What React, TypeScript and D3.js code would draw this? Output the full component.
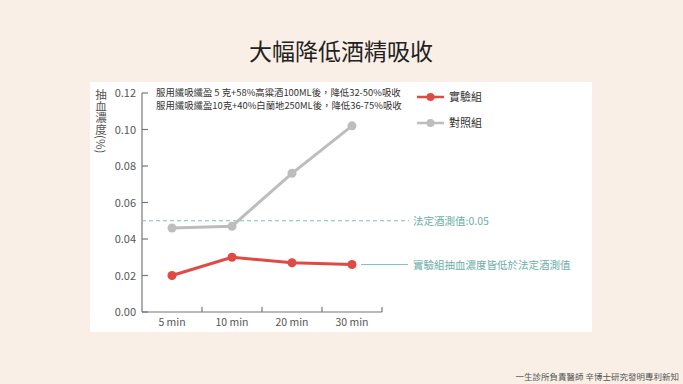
import React from "react";
import * as d3 from "d3";

const categories = ["5 min", "10 min", "20 min", "30 min"];
const experimentValues = [0.02, 0.03, 0.027, 0.026];
const controlValues = [0.046, 0.047, 0.076, 0.102];
const yTicks = [0, 0.02, 0.04, 0.06, 0.08, 0.1, 0.12];
const legalLimit = 0.05;
const seriesNames = ["實驗組", "對照組"];
const yLabel = "抽血濃度(%)";
const notes = [
  "服用纖吸纖盈 5 克+58%高粱酒100ML後，降低32-50%吸收",
  "服用纖吸纖盈10克+40%白蘭地250ML後，降低36-75%吸收",
];

export default function App() {
  const W = 683, H = 384;
  const x = d3.scaleBand<string>().domain(categories).range([142, 382]);
  const y = d3.scaleLinear().domain([0, 0.12]).range([312, 93]);
  const cx = (c: string) => (x(c) as number) + x.bandwidth() / 2;
  const line = d3
    .line<number>()
    .x((_, i) => cx(categories[i]))
    .y((d) => y(d));
  const red = "#e04a45";
  const gray = "#bdbdbd";
  const teal = "#7fbfb8";
  const axisColor = "#777";
  const font = "'Noto Sans CJK TC', 'Noto Sans', sans-serif";
  const lastX = cx(categories[3]);
  const lastY = y(experimentValues[3]);
  return (
    <svg
      width={W}
      height={H}
      style={{ position: "absolute", left: 0, top: 0 }}
      fontFamily={font}
    >
      <rect x={0} y={0} width={W} height={H} fill="#f9efe6" />
      <rect x={90} y={82} width={502} height={250} fill="#ffffff" />
      <text x={341} y={60} textAnchor="middle" fontSize={23} fill="#222">
        大幅降低酒精吸收
      </text>
      {/* y axis */}
      <line x1={142} x2={142} y1={y(0.12)} y2={y(0)} stroke={axisColor} strokeWidth={1.2} />
      {yTicks.map((t) => (
        <g key={t}>
          <line x1={142} x2={148} y1={y(t)} y2={y(t)} stroke={axisColor} strokeWidth={1.2} />
          <text x={136} y={y(t) + 4} textAnchor="end" fontSize={11} fill="#555">
            {t.toFixed(2)}
          </text>
        </g>
      ))}
      {/* x axis */}
      <line x1={142} x2={382} y1={y(0)} y2={y(0)} stroke={axisColor} strokeWidth={1.2} />
      {categories.map((c) => (
        <g key={c}>
          <line
            x1={(x(c) as number) + x.bandwidth()}
            x2={(x(c) as number) + x.bandwidth()}
            y1={y(0)}
            y2={y(0) - 5}
            stroke={axisColor}
            strokeWidth={1.2}
          />
          <text x={cx(c)} y={326} textAnchor="middle" fontSize={10.5} fill="#555">
            {c}
          </text>
        </g>
      ))}
      {/* y label */}
      <text
        x={101}
        y={89}
        fontSize={11.5}
        fill="#555"
        style={{ writingMode: "vertical-rl" } as any}
      >
        {yLabel}
      </text>
      {/* notes */}
      {notes.map((n, i) => (
        <text key={i} x={156} y={96 + i * 13} fontSize={9.4} fill="#333">
          {n}
        </text>
      ))}
      {/* legal limit */}
      <line
        x1={142}
        x2={409}
        y1={y(legalLimit)}
        y2={y(legalLimit)}
        stroke={teal}
        strokeWidth={1}
        strokeDasharray="4 3"
      />
      <text x={413} y={y(legalLimit) + 4} fontSize={10.5} fill="#6aaea8">
        法定酒測值:0.05
      </text>
      <line x1={lastX + 9} x2={408} y1={lastY} y2={lastY} stroke={teal} strokeWidth={1} />
      <text x={413} y={lastY + 4} fontSize={10.5} fill="#6aaea8">
        實驗組抽血濃度皆低於法定酒測值
      </text>
      {/* series */}
      <path d={line(controlValues) || ""} fill="none" stroke={gray} strokeWidth={3} />
      {controlValues.map((v, i) => (
        <circle key={i} cx={cx(categories[i])} cy={y(v)} r={4.5} fill={gray} />
      ))}
      <path d={line(experimentValues) || ""} fill="none" stroke={red} strokeWidth={3} />
      {experimentValues.map((v, i) => (
        <circle key={i} cx={cx(categories[i])} cy={y(v)} r={4.5} fill={red} />
      ))}
      {/* legend */}
      {[red, gray].map((col, i) => (
        <g key={i}>
          <line x1={417} x2={444} y1={97 + i * 26} y2={97 + i * 26} stroke={col} strokeWidth={2.5} />
          <circle cx={430.5} cy={97 + i * 26} r={4} fill={col} />
          <text x={449} y={101 + i * 26} fontSize={11} fill="#333">
            {seriesNames[i]}
          </text>
        </g>
      ))}
      <text x={679} y={380} textAnchor="end" fontSize={8.5} fill="#555">
        一生診所負責醫師 辛博士研究發明專利新知
      </text>
    </svg>
  );
}
